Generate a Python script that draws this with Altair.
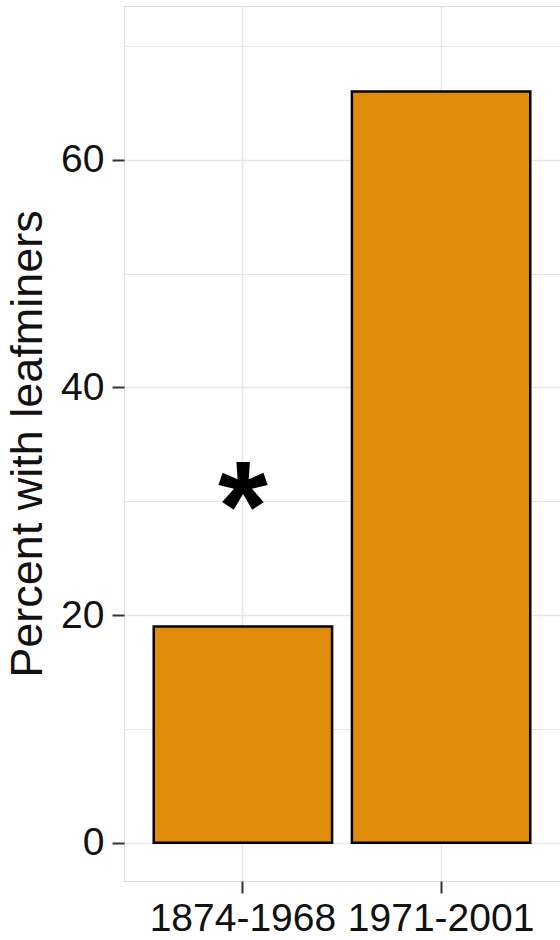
import altair as alt
import pandas as pd

# Share of herbarium specimens carrying leafminer damage, by collection period
periods = ["1874-1968", "1971-2001"]
percent = [19, 66]
# Significance marker drawn above the first period's bar
marker_text = ["*", ""]
marker_y = [31, None]

df = pd.DataFrame({"period": periods, "percent": percent,
                   "marker": marker_text, "marker_y": marker_y})

FONT = "Liberation Sans"

x_enc = alt.X(
    "period:N",
    sort=periods,
    scale=alt.Scale(paddingInner=0.1, paddingOuter=0.15),
    axis=alt.Axis(
        title=None,
        labelFont=FONT, labelFontSize=39, labelColor="#111111",
        labelAngle=0, labelPadding=6, labelBaseline="top", labelLimit=0,
        tickSize=12, tickWidth=2, tickColor="#333333",
        domain=False,
        grid=True, gridColor="#e6e6e6", gridWidth=1.5,
    ),
)

y_scale = alt.Scale(domain=[-3.35, 73.5], nice=False, zero=False)

bars = alt.Chart(df).mark_bar(
    color="#e08c0a", stroke="#000000", strokeWidth=2.5
).encode(
    x=x_enc,
    y=alt.Y(
        "percent:Q",
        scale=y_scale,
        axis=alt.Axis(
            title="Percent with leafminers",
            titleFont=FONT, titleFontSize=45, titleFontWeight="normal",
            titleColor="#111111", titlePadding=10,
            values=[0, 10, 20, 30, 40, 50, 60, 70],
            labelExpr="datum.value % 20 === 0 ? datum.label : ''",
            labelFont=FONT, labelFontSize=39, labelColor="#111111",
            labelPadding=8,
            tickSize=12, tickColor="#333333",
            tickWidth={"condition": {"test": "datum.value % 20 === 0", "value": 2}, "value": 0},
            domain=False,
            grid=True,
            gridColor="#e6e6e6",
            gridWidth={"condition": {"test": "datum.value % 20 === 0", "value": 1.5}, "value": 1},
        ),
    ),
    y2=alt.datum(0),
)

stars = alt.Chart(df).mark_text(
    font=FONT, fontSize=128, fontWeight="bold", color="#000000",
    baseline="middle", align="center", dy=22,
).encode(
    x=alt.X("period:N", sort=periods),
    y=alt.Y("marker_y:Q", scale=y_scale),
    text="marker:N",
)

chart = (
    alt.layer(bars, stars)
    .properties(
        width=436, height=875,
        autosize=alt.AutoSizeParams(type="none"),
        padding={"left": 124, "top": 6, "right": 0, "bottom": 59},
    )
    .configure_view(stroke="#7a7a7a", strokeWidth=2)
    .configure(background="white")
)

chart.save("out.html", embed_options={"renderer": "svg", "actions": False})
